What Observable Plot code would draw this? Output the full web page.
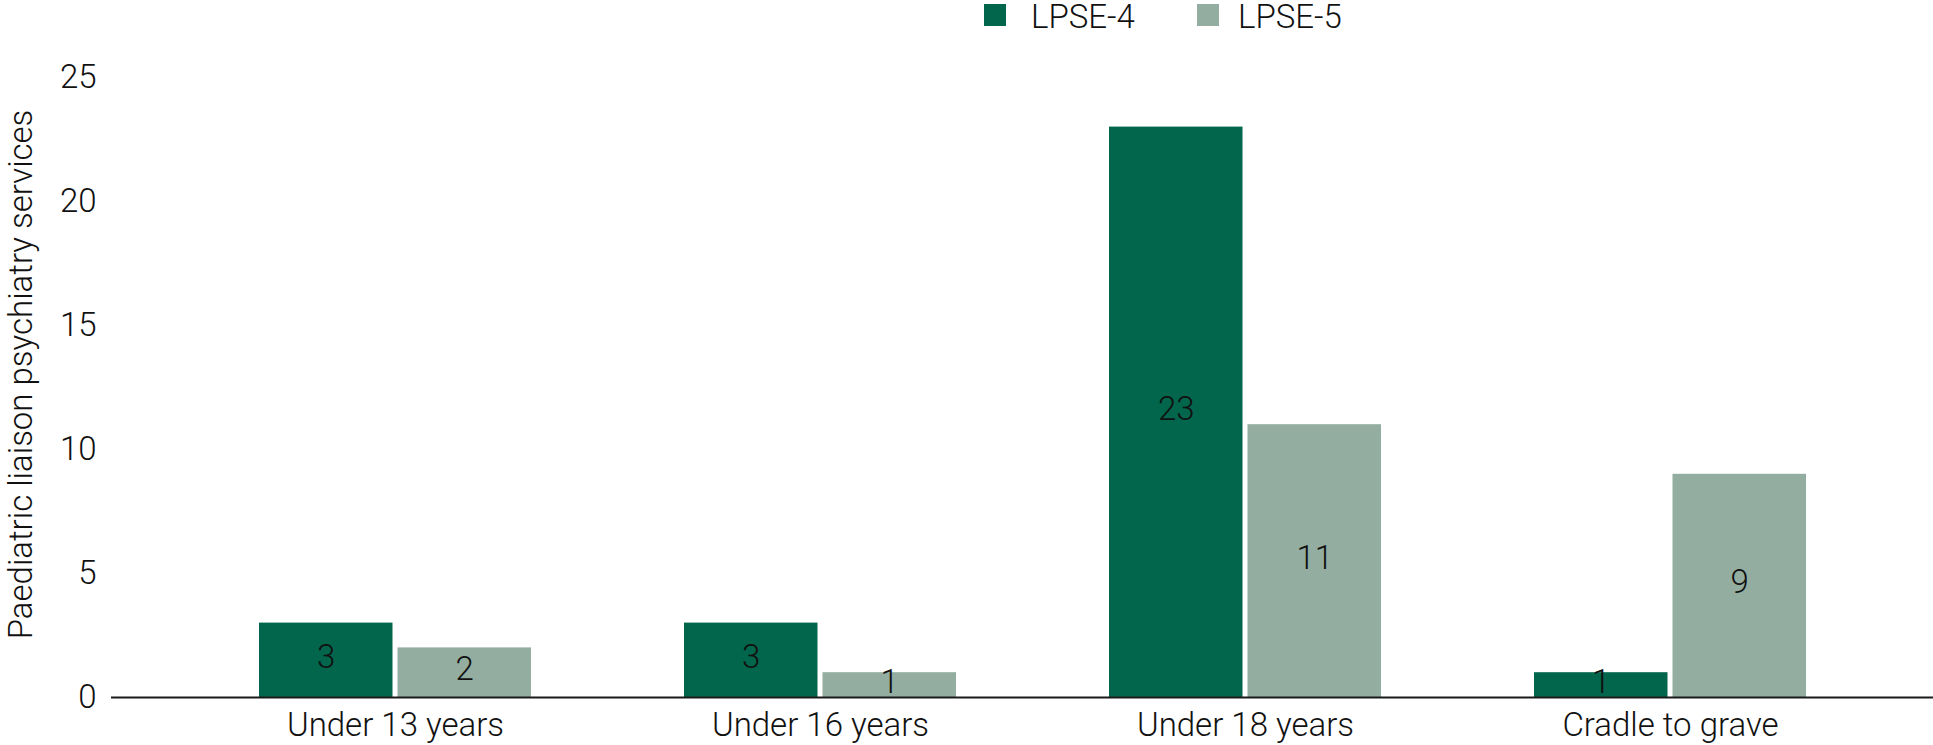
<!DOCTYPE html>
<html>
<head>
<meta charset="utf-8">
<script src="https://cdn.jsdelivr.net/npm/d3@7"></script>
<script src="https://cdn.jsdelivr.net/npm/@observablehq/plot@0.6"></script>
<style>
  html, body { margin: 0; padding: 0; background: #fff; }
  body { width: 1933px; height: 745px; overflow: hidden; font-family: Roboto, "Liberation Sans", sans-serif; font-weight: 300; }
  #legend { position: relative; height: 34px; width: 1933px; }
  .sw { position: absolute; top: 4px; width: 22px; height: 22px; }
  .lt { position: absolute; top: 0px; font-size: 33px; line-height: 33px; color: #111; white-space: nowrap; }
  svg text { font-weight: 300; }
</style>
</head>
<body>
<div id="legend"></div>
<div id="chart"></div>
<script>
const groups = ["Under 13 years", "Under 16 years", "Under 18 years", "Cradle to grave"];
const series = ["LPSE-4", "LPSE-5"];
const lpse4 = [3, 3, 23, 1];
const lpse5 = [2, 1, 11, 9];
const yTicks = [0, 5, 10, 15, 20, 25];
const colors = ["#02664c", "#93ada0"];
const yLabel = "Paediatric liaison psychiatry services";

const data = groups.flatMap((g, i) => [
  {group: g, series: series[0], value: lpse4[i]},
  {group: g, series: series[1], value: lpse5[i]}
]);

// legend
const legend = document.getElementById("legend");
const legendPos = [[984, 1031], [1197, 1238]];
series.forEach((s, i) => {
  const sw = document.createElement("div");
  sw.className = "sw";
  sw.style.left = legendPos[i][0] + "px";
  sw.style.background = colors[i];
  const t = document.createElement("div");
  t.className = "lt";
  t.style.left = legendPos[i][1] + "px";
  t.textContent = s;
  legend.appendChild(sw);
  legend.appendChild(t);
});

const xRange = [182.5, 1882.5];
const padInner = 0.36, padOuter = 0.18;
const step = (xRange[1] - xRange[0]) / (groups.length - padInner + 2 * padOuter);
const bw = step * (1 - padInner);
const gap = 5;
const inset = bw / 2 + gap / 2;
const off = bw / 4 + gap / 4;

const font = "Roboto, 'Liberation Sans', sans-serif";

const chart = Plot.plot({
  width: 1933,
  height: 711,
  marginLeft: 111,
  marginRight: 0,
  marginTop: 43,
  marginBottom: 48,
  style: {fontSize: "33px", fontFamily: font, color: "#111", background: "#fff"},
  x: {domain: groups, range: xRange, paddingInner: padInner, paddingOuter: padOuter, label: null, tickSize: 0, tickPadding: 15},
  y: {domain: [0, 25], ticks: yTicks, label: null, tickSize: 0, tickPadding: 15},
  color: {domain: series, range: colors},
  marks: [
    Plot.barY(data.filter(d => d.series === series[0]), {x: "group", y: "value", fill: colors[0], insetRight: inset}),
    Plot.barY(data.filter(d => d.series === series[1]), {x: "group", y: "value", fill: colors[1], insetLeft: inset}),
    Plot.ruleY([0], {stroke: "#1a1a1a", strokeWidth: 2}),
    Plot.text(data.filter(d => d.series === series[0]), {x: "group", y: d => d.value / 2, text: d => String(d.value), dx: -off, dy: -3, fill: "#111", fontSize: 33, lineAnchor: "middle"}),
    Plot.text(data.filter(d => d.series === series[1]), {x: "group", y: d => d.value / 2, text: d => String(d.value), dx: off, dy: -3, fill: "#111", fontSize: 33, lineAnchor: "middle"}),
    Plot.text([yLabel], {text: d => d, frameAnchor: "left", rotate: -90, textAnchor: "middle", lineAnchor: "bottom", dx: -80, dy: -13, fill: "#111", fontSize: 33})
  ]
});
document.getElementById("chart").appendChild(chart);
</script>
</body>
</html>
